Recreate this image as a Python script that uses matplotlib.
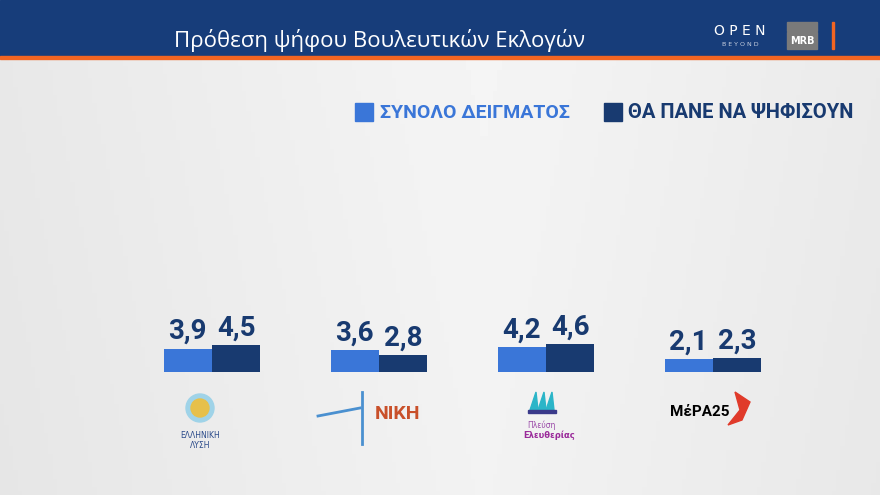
import matplotlib
matplotlib.use("Agg")
import matplotlib.pyplot as plt
import numpy as np
from matplotlib.patches import Rectangle, Polygon

parties = ["ΕΛΛΗΝΙΚΗ ΛΥΣΗ", "ΝΙΚΗ", "Πλεύση Ελευθερίας", "ΜέΡΑ25"]
total_sample = [3.9, 3.6, 4.2, 2.1]
will_vote = [4.5, 2.8, 4.6, 2.3]
value_labels_1 = ["3,9", "3,6", "4,2", "2,1"]
value_labels_2 = ["4,5", "2,8", "4,6", "2,3"]
series_names = ["ΣΥΝΟΛΟ ΔΕΙΓΜΑΤΟΣ", "ΘΑ ΠΑΝΕ ΝΑ ΨΗΦΙΣΟΥΝ"]

LIGHT = "#3a76d8"
DARK = "#183a70"
NAVY = "#173d7a"
W, H = 880, 495
fig = plt.figure(figsize=(8.8, 4.95), dpi=100)

bg = fig.add_axes([0, 0, 1, 1])
bg.set_axis_off()
xx = np.linspace(0, 1, 200)
yy = np.linspace(0, 1, 120)
X, Y = np.meshgrid(xx, yy)
grad = 0.89 + 0.06 * (1 - np.abs(X - 0.55) * 1.5) + 0.01 * Y
bg.imshow(grad, cmap="gray", vmin=0, vmax=1, extent=[0, W, 0, H], aspect="auto")
bg.set_xlim(0, W); bg.set_ylim(H, 0)
bg.add_patch(Rectangle((0, 0), W, 56, color=NAVY))
bg.add_patch(Rectangle((0, 56), W, 3, color="#f26522"))
bg.text(380, 40, "Πρόθεση ψήφου Βουλευτικών Εκλογών", color="white", fontsize=16,
        ha="center", va="center", family="Open Sans")
bg.text(740, 31, "O P E N", color="white", fontsize=10, ha="center", va="center", family="DejaVu Sans")
bg.text(740, 45, "B E Y O N D", color="#c8d0e0", fontsize=4.5, ha="center", va="center")
bg.add_patch(Rectangle((787, 22), 30, 9, color="#7a7a7a"))
bg.add_patch(Rectangle((787, 32), 30, 17, color="#7a7a7a"))
bg.text(802, 41, "MRB", color="white", fontsize=7, fontweight="bold", ha="center", va="center")
bg.add_patch(Rectangle((832, 22), 2, 27, color="#f26522"))

# legend
bg.add_patch(Rectangle((355, 103), 18, 18, color=LIGHT))
bg.text(380, 113, series_names[0], color=LIGHT, fontsize=14, fontweight="bold",
        ha="left", va="center", family="Roboto")
bg.add_patch(Rectangle((604, 103), 18, 18, color=DARK))
bg.text(628, 113, series_names[1], color=DARK, fontsize=14.5, fontweight="bold",
        ha="left", va="center", family="Roboto")

# logos
bg.add_patch(plt.Circle((200, 408), 14, color="#9fd3e8"))
bg.add_patch(plt.Circle((200, 408), 9, color="#e6c04a"))
bg.text(200, 436, "ΕΛΛΗΝΙΚΗ", color="#2a4a8a", fontsize=5.5, ha="center", va="center")
bg.text(200, 445, "ΛΥΣΗ", color="#2a4a8a", fontsize=5.5, ha="center", va="center")
bg.text(398, 414, "ΝΙΚΗ", color="#c9502a", fontsize=14, fontweight="bold", ha="center", va="center", family="Roboto")
bg.plot([362, 362], [392, 444], color="#4a90d0", lw=2)
bg.plot([318, 360], [416, 408], color="#4a90d0", lw=2)
for dx in (0, 8, 16):
    bg.add_patch(Polygon([[530 + dx, 410], [536 + dx, 392], [538 + dx, 410]], color="#2bb5c8"))
bg.add_patch(Rectangle((528, 410), 28, 3, color="#3a3a8a"))
bg.text(541, 425, "Πλεύση", color="#9a4aa8", fontsize=5.5, ha="center", va="center")
bg.text(549, 435, "Ελευθερίας", color="#9a2a9a", fontsize=6, fontweight="bold", ha="center", va="center")
bg.text(700, 412, "ΜέΡΑ25", color="black", fontsize=11, fontweight="bold", ha="center", va="center", family="Roboto")
bg.add_patch(Polygon([[735, 392], [750, 402], [742, 420], [728, 425], [740, 410]], color="#e03a2a"))

# bars
ax = fig.add_axes([128.5 / W, 123 / H, 668 / W, 60 / H])
ax.set_axis_off()
ax.set_xlim(-0.5, 3.5); ax.set_ylim(0, 10)
x = np.arange(len(parties))
bw = 0.29
ax.bar(x - bw / 2, total_sample, bw, color=LIGHT)
ax.bar(x + bw / 2, will_vote, bw, color=DARK)
for i in range(len(parties)):
    ax.text(x[i] - bw / 2, total_sample[i] + 0.6, value_labels_1[i], color=DARK, fontsize=20,
            fontweight="bold", ha="center", va="bottom", family="Roboto")
    ax.text(x[i] + bw / 2, will_vote[i] + 0.6, value_labels_2[i], color=DARK, fontsize=20,
            fontweight="bold", ha="center", va="bottom", family="Roboto")

fig.savefig("out.png", dpi=100)
